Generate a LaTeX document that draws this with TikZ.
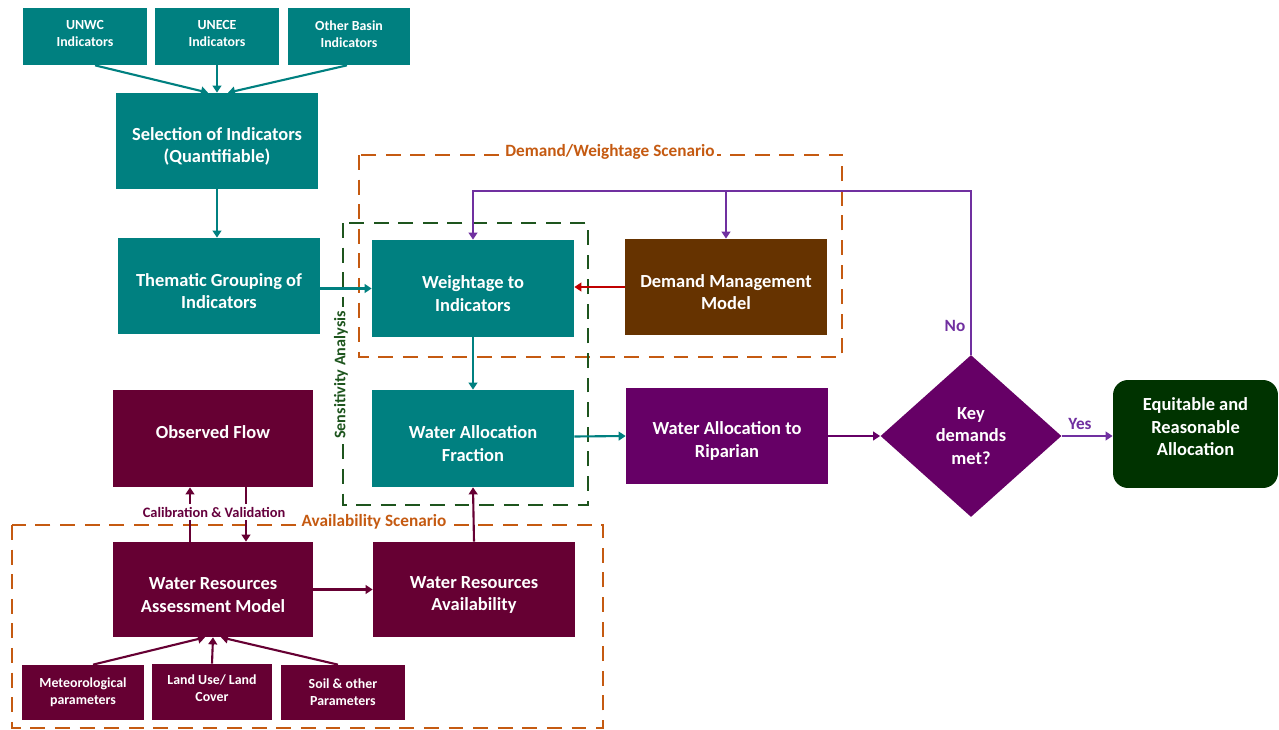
\documentclass[tikz,border=0pt]{standalone}
\usepackage{fontspec}
\setmainfont{Carlito}
\usetikzlibrary{shapes.geometric,arrows.meta,calc}
\definecolor{tealc}{RGB}{0,128,128}
\definecolor{maroonc}{RGB}{102,0,51}
\definecolor{brownc}{RGB}{102,51,0}
\definecolor{purplec}{RGB}{102,0,102}
\definecolor{darkgreenc}{RGB}{0,51,0}
\definecolor{orangec}{RGB}{197,90,17}
\definecolor{sensc}{RGB}{30,85,30}
\definecolor{fbc}{RGB}{112,48,160}
\definecolor{redc}{RGB}{192,0,0}
\newcommand{\tup}{\rule{0pt}{13.3pt}}
\newcommand{\tdn}[1]{\rule[-#1]{0pt}{#1}}
\begin{document}
\begin{tikzpicture}[x=0.02cm,y=-0.02cm,
  box/.style={inner sep=1pt, align=center, text=white, font=\fontsize{10.5}{12.8}\selectfont\bfseries},
  sbox/.style={box, font=\fontsize{7.9}{9.6}\selectfont\bfseries},
  arr/.style={-{Triangle[width=5pt,length=4pt]}, line width=1.2pt},
  dbox/.style={dash pattern=on 8.5pt off 5.5pt, line width=1.7pt},
  lab/.style={font=\fontsize{9.8}{11}\selectfont\bfseries, inner sep=1.5pt}]
\useasboundingbox (0,0) rectangle (1279,730);

% dashed frames
\draw[dbox, orangec] (359,155) rectangle (842,357);
\draw[dbox, sensc] (343,223) rectangle (588,505);
\draw[dbox, orangec] (12,525) rectangle (603,728);

% nodes
\node[sbox, fill=tealc, minimum width=2.48cm, minimum height=1.14cm] (unwc) at (85,36.5) {UNWC\\Indicators\tdn{3pt}};
\node[sbox, fill=tealc, minimum width=2.48cm, minimum height=1.14cm] (unece) at (217,36.5) {UNECE\\Indicators\tdn{3pt}};
\node[sbox, fill=tealc, minimum width=2.44cm, minimum height=1.14cm] (other) at (349,36.5) {Other Basin\\Indicators\tdn{3pt}};
\node[box, fill=tealc, minimum width=4.04cm, minimum height=1.92cm] (sel) at (217,141) {\tup Selection of Indicators\\(Quantifiable)};
\node[box, fill=tealc, minimum width=4.04cm, minimum height=1.92cm] (them) at (219,286) {\tup Thematic Grouping of\\Indicators};
\node[box, fill=tealc, minimum width=4.04cm, minimum height=1.94cm] (weight) at (473,288.5) {\tup Weightage to\\Indicators};
\node[box, fill=brownc, minimum width=4.04cm, minimum height=1.92cm] (dmm) at (726,287) {\tup Demand Management\\Model};
\node[box, fill=maroonc, minimum width=4.0cm, minimum height=1.94cm] (obs) at (213,438.5) {Observed Flow\tdn{7.4pt}};
\node[box, fill=tealc, minimum width=4.04cm, minimum height=1.94cm] (waf) at (473,438.5) {\tup Water Allocation\\Fraction};
\node[box, fill=purplec, minimum width=4.04cm, minimum height=1.92cm] (rip) at (727,436) {\tup Water Allocation to\\Riparian};
\node[box, fill=purplec, shape=diamond, inner sep=0pt, minimum width=3.62cm, minimum height=3.24cm] (key) at (971,436) {Key\\demands\\met?};
\node[box, fill=darkgreenc, rounded corners=0.3cm, minimum width=3.3cm, minimum height=2.16cm] (eq) at (1195.5,434) {Equitable and\\Reasonable\\Allocation\tdn{8pt}};
\node[box, fill=maroonc, minimum width=4.0cm, minimum height=1.9cm] (wram) at (213,589.5) {\tup Water Resources\\Assessment Model};
\node[box, fill=maroonc, minimum width=4.04cm, minimum height=1.9cm] (wra) at (474,589.5) {\tup Water Resources\\Availability};
\node[sbox, fill=maroonc, minimum width=2.44cm, minimum height=1.1cm] (met) at (83,692.5) {Meteorological\\parameters};
\node[sbox, fill=maroonc, minimum width=2.4cm, minimum height=1.12cm] (lu) at (212,692) {Land Use/ Land\\Cover\tdn{4.6pt}};
\node[sbox, fill=maroonc, minimum width=2.48cm, minimum height=1.1cm] (soil) at (343,692.5) {Soil \& other\\Parameters};

% frame labels
\node[lab, text=orangec, fill=white] (dlab) at (610,152) {Demand/Weightage Scenario};
\node[lab, text=orangec, fill=white] (alab) at (374,522) {Availability Scenario};
\node[lab, text=sensc, fill=white, rotate=90, inner sep=2.5pt, font=\fontsize{9.2}{10}\selectfont\bfseries] (slab) at (341,375) {Sensitivity Analysis};

% teal connectors
\draw[arr, tealc] ($(unwc.south)+(10,0)$) -- ($(sel.north)+(-9,0)$);
\draw[arr, tealc] (unece.south) -- (sel.north);
\draw[arr, tealc] ($(other.south)+(-2,0)$) -- ($(sel.north)+(11,0)$);
\draw[arr, tealc] (sel.south) -- (sel.south |- them.north);
\draw[arr, tealc] (them.east |- weight.west) -- (weight.west);
\draw[arr, tealc] (weight.south) -- (waf.north);
\draw[arr, tealc] ($(waf.east)+(0,-2)$) -- ($(rip.west)$);
\draw[arr, redc] (dmm.west) -- (dmm.west -| weight.east);

% feedback loop
\coordinate (fb) at (974,191);
\draw[arr, fbc, line width=1.3pt] (key.north) -- (key.north |- fb) -| (weight.north);
\draw[arr, fbc, line width=1.3pt] (dmm.north |- fb) -- (dmm.north);
\draw[arr, purplec] (rip.east) -- (key.west);
\draw[arr, fbc] (key.east) -- (eq.west |- key.east);
\node[lab, text=fbc] (no) at (955,326) {No};
\node[lab, text=fbc] (yes) at (1080,424) {Yes};

% maroon connectors
\draw[arr, maroonc] ($(wram.north)+(-23,0)$) -- ($(obs.south)+(-23,0)$);
\draw[arr, maroonc] ($(obs.south)+(33,0)$) -- ($(wram.north)+(33,0)$);
\node[lab, text=maroonc!80!purplec, fill=white, font=\fontsize{8.2}{10}\selectfont\bfseries] (cal) at (214,512) {Calibration \& Validation};
\draw[arr, maroonc] (wram.east) -- (wra.west);
\draw[arr, maroonc] (wra.north) -- (waf.south);
\draw[arr, maroonc] ($(met.north)+(10,0)$) -- ($(wram.south)+(-8,0)$);
\draw[arr, maroonc] (lu.north) -- (wram.south);
\draw[arr, maroonc] ($(soil.north)+(-5,0)$) -- ($(wram.south)+(8,0)$);
\end{tikzpicture}
\end{document}
